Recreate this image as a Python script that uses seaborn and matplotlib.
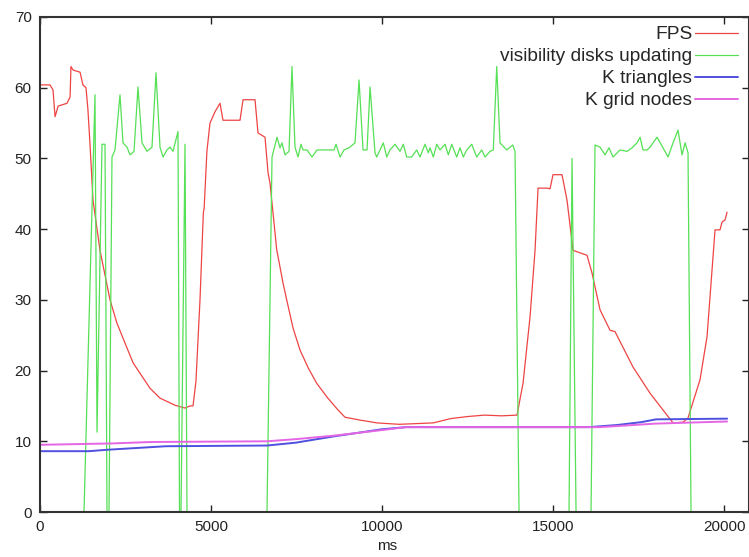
import matplotlib
matplotlib.use("Agg")
import matplotlib.pyplot as plt
import seaborn as sns

# FPS trace (ms, frames per second)
fps_ms = [0, 290, 380, 440, 530, 790, 880, 905, 965, 1170, 1255, 1345, 1400, 1462, 1550,
          1754, 2047, 2250, 2720, 3216, 3509, 3947, 4240, 4386, 4474, 4560, 4678, 4776,
          4800, 4880, 4970, 5117, 5263, 5351, 5848, 5936, 6287, 6374, 6579, 6667, 6725,
          6921, 7105, 7213, 7400, 7602, 7850, 8091, 8400, 8700, 8918, 9357, 9854, 10500,
          11000, 11500, 12000, 12500, 13000, 13500, 13947, 14123, 14328, 14474, 14562,
          14825, 14912, 15000, 15263, 15409, 15585, 15994, 16140, 16374, 16667, 16813,
          17339, 17836, 18509, 18801, 18947, 19298, 19503, 19737, 19883, 19942, 20029,
          20088]
fps = [60.4, 60.4, 59.7, 55.9, 57.4, 57.8, 58.7, 63.0, 62.5, 62.2, 60.4, 60.0, 57.0, 52.0, 44.1,
       37.0, 30.0, 26.7, 21.1, 17.5, 16.1, 15.1, 14.7, 15.0, 15.0, 18.5, 30.0, 42.3,
       43.0, 51.0, 55.0, 56.6, 57.8, 55.4, 55.4, 58.3, 58.3, 53.6, 53.0, 48.0, 46.5,
       37.1, 32.4, 30.0, 26.0, 22.9, 20.3, 18.2, 16.2, 14.5, 13.4, 13.0, 12.6, 12.4,
       12.5, 12.6, 13.2, 13.5, 13.7, 13.6, 13.7, 18.2, 27.6, 37.0, 45.8,
       45.8, 45.7, 47.7, 47.7, 44.1, 37.0, 36.3, 33.8, 28.6, 25.7, 25.5,
       20.5, 16.8, 12.6, 12.7, 13.3, 18.7, 24.8, 39.9, 39.9, 41.0, 41.3,
       42.4]

# visibility disks updating
vis_ms = [0, 1287, 1608, 1667, 1813, 1901, 1959, 2018, 2105, 2193, 2339, 2427, 2544, 2632,
          2749, 2865, 2983, 3129, 3275, 3392, 3509, 3596, 3713, 3801, 3889, 4035, 4079,
          4123, 4240, 4298, 6637, 6784, 6930, 7017, 7076, 7164, 7281, 7368, 7456, 7544,
          7632, 7690, 7807, 7953, 8099, 8596, 8655, 8772, 8889, 9035, 9210, 9328, 9445,
          9562, 9650, 9795, 9845, 10038, 10138, 10234, 10380, 10526, 10623, 10722, 10868,
          11015, 11111, 11257, 11354, 11404, 11500, 11600, 11696, 11842, 11939, 12038,
          12184, 12281, 12377, 12477, 12623, 12769, 12915, 13012, 13158, 13254, 13354,
          13450, 13646, 13822, 13889, 14006, 15468, 15556, 15673, 16111, 16228, 16374,
          16520, 16637, 16754, 16959, 17164, 17310, 17456, 17544, 17632, 17749, 17836,
          18041, 18216, 18363, 18509, 18655, 18772, 18860, 18947, 19035, 20088]
vis = [0, 0, 59, 11.3, 52, 52, 0, 0, 50.2, 51.2, 59, 52.2, 51.6, 50.5,
       51, 60.1, 52.2, 51, 51.6, 62.1, 51.6, 50.2, 51.2, 51.6, 51, 53.8, 0,
       0, 52, 0, 0, 50.2, 53, 51.5, 52.2, 50.5, 51, 63, 51.6, 50.2,
       52, 51.2, 51.2, 50.2, 51.2, 51.2, 52, 50.2, 51.2, 51.5, 52.2, 61.1, 51.2,
       51.2, 60.1, 50.8, 50.2, 52.2, 50.2, 51.2, 52, 51, 52, 50.2, 50.2,
       51.2, 50.2, 52, 50.8, 51.5, 50.2, 52, 51.2, 52, 50.5, 52,
       50.2, 51.5, 50.2, 51.2, 52, 50.2, 51.2, 50.2, 51, 51.2, 63,
       52.2, 51.2, 51.9, 51, 0, 0, 50, 0, 0, 51.9, 51.6,
       50.5, 51.5, 50.2, 51.2, 51, 51.5, 52.2, 53, 51.2, 51.2, 51.6,
       53, 51.5, 50.2, 52.2, 54, 50.5, 52.2, 50.8, 0, 0]

# K triangles
tri_ms = [0, 1430, 1960, 3680, 6640, 7470, 8600, 10000, 10700, 16040, 16870, 17570, 18010, 20090]
tri = [8.6, 8.6, 8.8, 9.3, 9.4, 9.8, 10.7, 11.7, 12.0, 12.0, 12.3, 12.7, 13.1, 13.2]

# K grid nodes
grid_ms = [0, 2130, 3250, 6640, 7470, 8600, 9850, 10700, 16370, 18000, 20090]
grid = [9.5, 9.7, 9.9, 10.0, 10.3, 10.8, 11.5, 12.0, 12.0, 12.5, 12.8]

sns.set_style("ticks")
plt.rcParams['font.family'] = ['Liberation Sans', 'DejaVu Sans']

fig = plt.figure(figsize=(7.49, 5.57), dpi=100)
ax = fig.add_axes([40 / 749, 1 - 512 / 557, 709 / 749, 495 / 557])

sns.lineplot(x=fps_ms, y=fps, label='FPS', color='#ee4444', linewidth=0.9,
             estimator=None, sort=False, ax=ax)
sns.lineplot(x=vis_ms, y=vis, label='visibility disks updating', color='#55e055',
             linewidth=0.9, estimator=None, sort=False, ax=ax)
sns.lineplot(x=tri_ms, y=tri, label='K triangles', color='#5050e0', linewidth=1.4,
             estimator=None, sort=False, ax=ax)
sns.lineplot(x=grid_ms, y=grid, label='K grid nodes', color='#e466e4', linewidth=1.4,
             estimator=None, sort=False, ax=ax)

ax.set_xlim(0, 20730)
ax.set_ylim(0, 70)
ax.set_xticks([0, 5000, 10000, 15000, 20000])
ax.set_yticks(range(0, 71, 10))
ax.tick_params(direction='in', top=True, right=True, length=5, width=1,
               labelsize=11, colors='#222222', pad=6)
for s in ax.spines.values():
    s.set_linewidth(1.5)
    s.set_color('#333333')

ax.set_xlabel('ms', fontsize=11, color='#222222')
ax.xaxis.set_label_coords(0.49, -0.055)
ax.set_ylabel('')

handles, labels = ax.get_legend_handles_labels()
ax.legend(handles, labels, loc='upper right', bbox_to_anchor=(0.985, 0.982),
          frameon=False, markerfirst=False, fontsize=13.8, handlelength=2.25,
          handletextpad=0.15, labelspacing=0.24, borderpad=0, borderaxespad=0)

fig.savefig('out.png', dpi=100)
